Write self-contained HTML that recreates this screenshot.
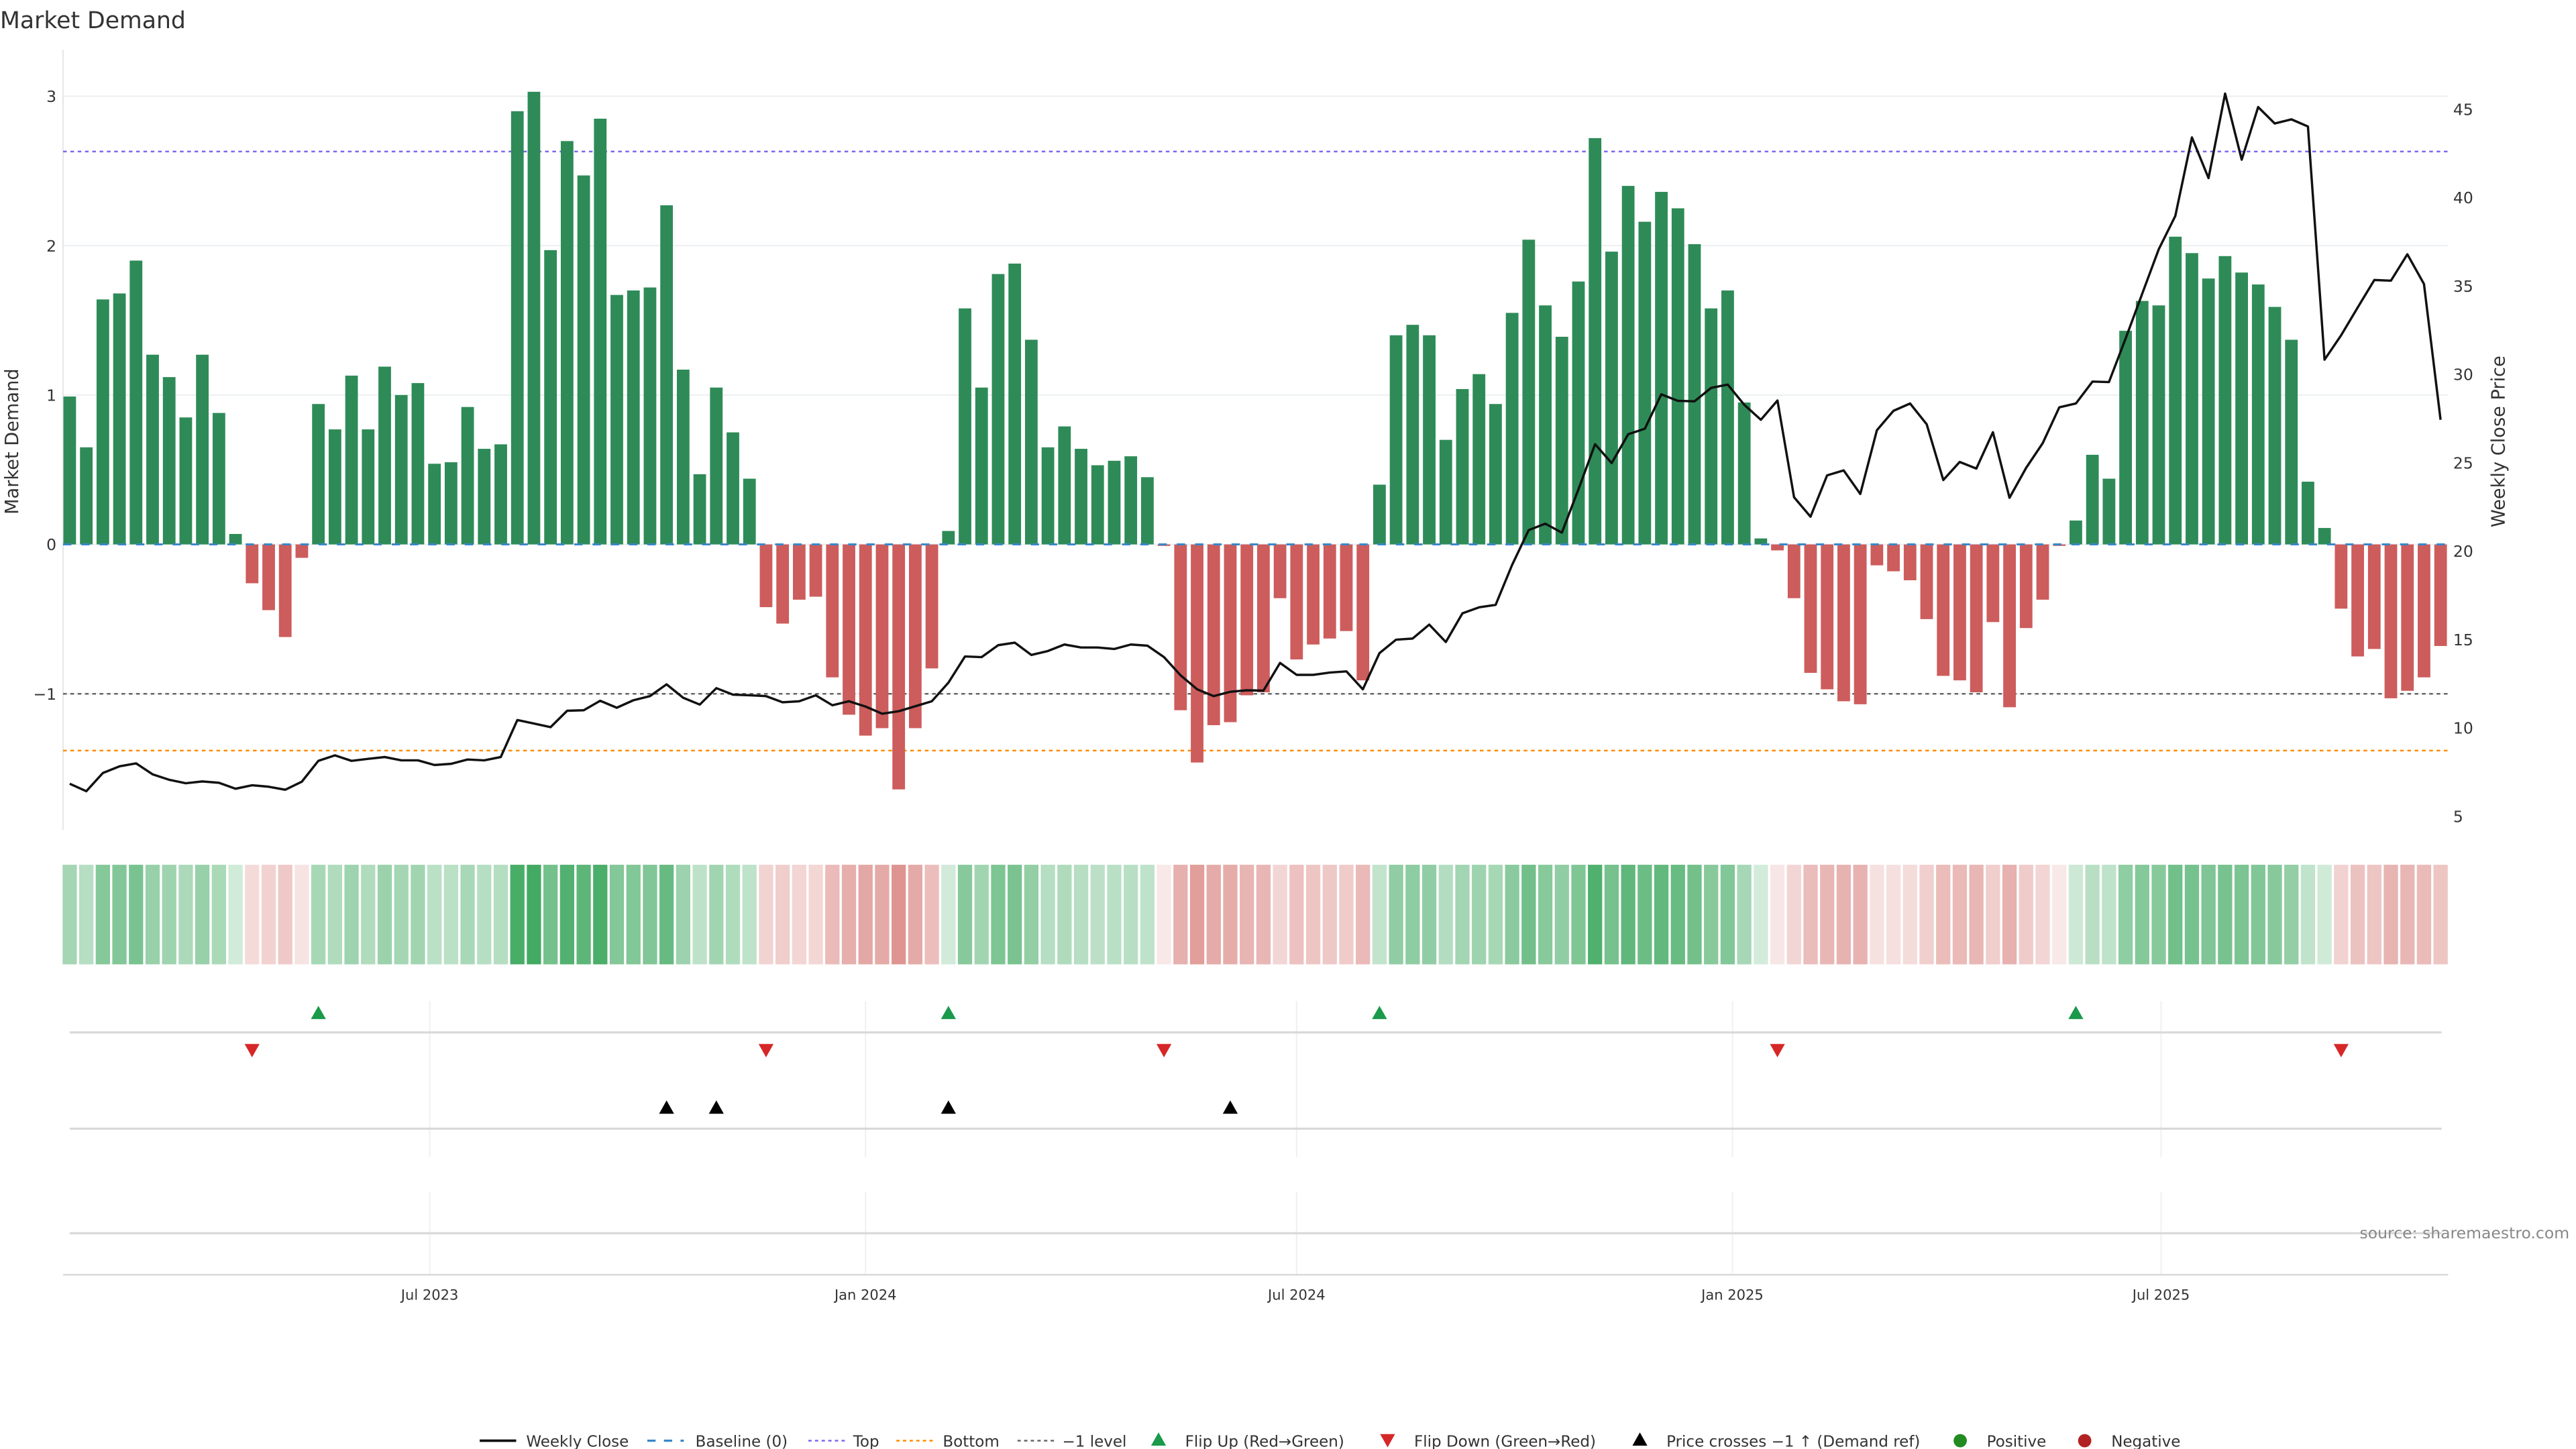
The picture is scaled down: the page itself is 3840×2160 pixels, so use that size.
<!DOCTYPE html>
<html><head><meta charset="utf-8"><style>
html,body{margin:0;padding:0;background:#fff;}
svg{display:block;font-family:"DejaVu Sans","Liberation Sans",sans-serif;}
</style></head><body>
<svg id="chart" width="3840" height="2160" viewBox="0 0 1552 873" xmlns="http://www.w3.org/2000/svg">
<text x="0" y="17" font-size="14" fill="#333">Market Demand</text>
<g id="plot"></g>
</svg>
<script>
const demand = [0.99,0.65,1.64,1.68,1.90,1.27,1.12,0.85,1.27,0.88,0.07,-0.26,-0.44,-0.62,-0.09,0.94,0.77,1.13,0.77,1.19,
1.00,1.08,0.54,0.55,0.92,0.64,0.67,2.90,3.03,1.97,2.70,2.47,2.85,1.67,1.70,1.72,2.27,1.17,0.47,1.05,
0.75,0.44,-0.42,-0.53,-0.37,-0.35,-0.89,-1.14,-1.28,-1.23,-1.64,-1.23,-0.83,0.09,1.58,1.05,1.81,1.88,1.37,0.65,
0.79,0.64,0.53,0.56,0.59,0.45,-0.01,-1.11,-1.46,-1.21,-1.19,-1.01,-0.99,-0.36,-0.77,-0.67,-0.63,-0.58,-0.91,0.40,
1.40,1.47,1.40,0.70,1.04,1.14,0.94,1.55,2.04,1.60,1.39,1.76,2.72,1.96,2.40,2.16,2.36,2.25,2.01,1.58,
1.70,0.95,0.04,-0.04,-0.36,-0.86,-0.97,-1.05,-1.07,-0.14,-0.18,-0.24,-0.50,-0.88,-0.91,-0.99,-0.52,-1.09,-0.56,-0.37,
-0.01,0.16,0.60,0.44,1.43,1.63,1.60,2.06,1.95,1.78,1.93,1.82,1.74,1.59,1.37,0.42,0.11,-0.43,-0.75,-0.70,
-1.03,-0.98,-0.89,-0.68];
const price = [6.84,6.41,7.45,7.82,7.99,7.37,7.06,6.86,6.97,6.89,6.55,6.75,6.67,6.50,6.95,8.13,8.44,8.13,8.24,8.35,
8.16,8.16,7.90,7.96,8.21,8.16,8.35,10.44,10.24,10.04,10.97,11.0,11.53,11.14,11.56,11.79,12.46,11.70,11.31,12.24,
11.88,11.84,11.79,11.45,11.50,11.84,11.28,11.50,11.20,10.80,10.94,11.22,11.50,12.55,14.04,14.0,14.68,14.82,14.12,14.35,
14.71,14.54,14.54,14.46,14.71,14.65,14.0,12.97,12.18,11.79,12.04,12.12,12.10,13.67,13.0,13.0,13.13,13.19,12.18,14.23,
14.99,15.05,15.84,14.85,16.48,16.82,16.96,19.21,21.18,21.55,21.04,23.49,26.05,24.98,26.61,26.92,28.86,28.50,28.47,29.23,
29.42,28.27,27.43,28.52,23.04,21.94,24.28,24.56,23.23,26.84,27.93,28.35,27.17,24.02,25.04,24.67,26.72,23.01,24.70,26.10,
28.13,28.35,29.59,29.56,32.01,34.54,37.07,38.96,43.40,41.10,45.88,42.14,45.12,44.19,44.42,44.02,30.83,32.21,33.78,35.33,
35.30,36.79,35.11,27.43];
const flipUp = [15,53,79,121];
const flipDown = [11,42,66,103,137];
const crossUp = [36,39,53,70];
const leftTicks = [3,2,1,0,-1];
const leftTickLabels = ["3","2","1","0","\u22121"];
const rightTicks = [45,40,35,30,25,20,15,10,5];
const dateTicks = ["2023-07-01","2024-01-01","2024-07-01","2025-01-01","2025-07-01"];
const dateTickLabels = ["Jul 2023","Jan 2024","Jul 2024","Jan 2025","Jul 2025"];
const topLevel = 2.63, bottomLevel = -1.38, minusLevel = -1;
const startDate = "2023-01-30";

const NS = "http://www.w3.org/2000/svg";
const g = document.getElementById('plot');
const X0 = 38, X1 = 1475;
const DAY = 1.427;
const t0 = Date.parse(startDate);
function xDate(s){ return 42 + (Date.parse(s) - t0)/86400000*DAY; }
function xi(i){ return 42 + i*7*DAY; }
function yL(v){ return 328 - v*90; }
function yR(p){ return 332 - (p-20)*10.65; }
function el(tag, attrs, parent){ const e=document.createElementNS(NS,tag); for(const k in attrs) e.setAttribute(k,attrs[k]); (parent||g).appendChild(e); return e; }
function txt(s, attrs){ const e=el('text',attrs); e.textContent=s; return e; }

leftTicks.forEach((v,k)=>{
  const l = el('line',{x1:X0,x2:X1,y1:yL(v),y2:yL(v),stroke:'#eceff1','stroke-width':0.8});
  
  
  const t = txt(leftTickLabels[k],{x:34,y:yL(v)+3.5,'font-size':9.5,fill:'#333','text-anchor':'end'});
  
  
});
const la = el('line',{x1:X0,x2:X0,y1:30,y2:500,stroke:'#e6e6e6','stroke-width':0.8});


rightTicks.forEach(p=>{
  const t = txt(String(p),{x:1478,y:yR(p)+3.5,'font-size':9.5,fill:'#333'});
  
  
});
const yt1 = txt('Market Demand',{x:0,y:0,'font-size':11,fill:'#333','text-anchor':'middle',transform:'translate(11,266) rotate(-90)'});


const yt2 = txt('Weekly Close Price',{x:0,y:0,'font-size':11,fill:'#333','text-anchor':'middle',transform:'translate(1509,266) rotate(-90)'});



const refs = [[topLevel,'#7b68ee','2.2 2.2','top-line'],[minusLevel,'#666','2.2 2.2','minus-one-line'],[bottomLevel,'#ff8c00','2.2 2.2','bottom-line']];
refs.forEach(r=>{
  const l = el('line',{x1:X0,x2:X1,y1:yL(r[0]),y2:yL(r[0]),stroke:r[1],'stroke-width':1,'stroke-dasharray':r[2]});
  
  
});

const bw = 7.6;
demand.forEach((v,i)=>{
  const y = Math.min(yL(v), yL(0)), h = Math.abs(yL(v)-yL(0));
  const b = el('rect',{x:xi(i)-bw/2,y:y,width:bw,height:Math.max(h,0.3),fill: v>=0 ? '#2e8b57' : '#cd5c5c'});
  
  
});
const base = el('line',{x1:X0,x2:X1,y1:yL(0),y2:yL(0),stroke:'#3a87c8','stroke-width':1.2,'stroke-dasharray':'5 6'});



const pl = el('polyline',{points:price.map((p,i)=>xi(i).toFixed(1)+','+yR(p).toFixed(1)).join(' '),fill:'none',stroke:'#111','stroke-width':1.4,'stroke-linejoin':'round'});



demand.forEach((v,i)=>{
  const a = v>=0 ? Math.min(0.92,0.2+0.23*v) : Math.min(0.8,0.13+0.29*Math.abs(v));
  const c = el('rect',{x:xi(i)-4.3,y:521,width:8.6,height:60,fill: v>=0 ? '#2ca050' : '#c8504b','fill-opacity':a});
  
  
});

dateTicks.forEach((d,k)=>{
  const x = xDate(d);
  const v1 = el('line',{x1:x,x2:x,y1:603,y2:697,stroke:'#eef0f2','stroke-width':0.8});
  
  
  const v2 = el('line',{x1:x,x2:x,y1:718,y2:768,stroke:'#eef0f2','stroke-width':0.8});
  
  
  const t = txt(dateTickLabels[k],{x:x,y:783,'font-size':8.5,fill:'#333','text-anchor':'middle'});
  
  
});
[622,680,743].forEach(y=>{
  const l = el('line',{x1:42,x2:1471,y1:y,y2:y,stroke:'#d9d9d9','stroke-width':1.3});
  
  
});
const xa = el('line',{x1:X0,x2:X1,y1:768,y2:768,stroke:'#d9d9d9','stroke-width':1});



function tri(x,y,up,color,name){
  const pts = up ? [[x,y-4],[x-4.5,y+4],[x+4.5,y+4]] : [[x,y+4],[x-4.5,y-4],[x+4.5,y-4]];
  const t = el('polygon',{points:pts.map(p=>p.join(',')).join(' '),fill:color});
  
  
}
flipUp.forEach(i=>tri(xi(i),610,true,'#1a9a4a','flip-up-marker'));
flipDown.forEach(i=>tri(xi(i),633,false,'#d62728','flip-down-marker'));
crossUp.forEach(i=>tri(xi(i),667,true,'#000','price-cross-marker'));

const src = txt('source: sharemaestro.com',{x:1548,y:746,'font-size':9.5,fill:'#888','text-anchor':'end'});



const LY = 868;
function legText(s,x){ const t=txt(s,{x:x,y:LY+3.5,'font-size':9.3,fill:'#333'});   }
function legLine(x,color,dash,w,name){ const l=el('line',{x1:x,x2:x+22,y1:LY,y2:LY,stroke:color,'stroke-width':w,'stroke-dasharray':dash});   }
legLine(289,'#111','none',1.5,'legend-weekly-close'); legText('Weekly Close',317);
legLine(390,'#3a87c8','5 5',1.3,'legend-baseline'); legText('Baseline (0)',419);
legLine(487,'#7b68ee','2 2',1,'legend-top'); legText('Top',514);
legLine(540,'#ff8c00','2 2',1,'legend-bottom'); legText('Bottom',568);
legLine(613,'#666','2 2',1,'legend-minus-one'); legText('\u22121 level',640);
tri(698,LY-1,true,'#1a9a4a','legend-flip-up'); legText('Flip Up (Red\u2192Green)',714);
tri(836,LY,false,'#d62728','legend-flip-down'); legText('Flip Down (Green\u2192Red)',852);
tri(988,LY-1,true,'#000','legend-price-cross'); legText('Price crosses \u22121 \u2191 (Demand ref)',1004);
const c1 = el('circle',{cx:1181,cy:LY,r:4,fill:'#228b22'});   legText('Positive',1197);
const c2 = el('circle',{cx:1256,cy:LY,r:4,fill:'#b22222'});   legText('Negative',1272);
</script>
</body></html>
